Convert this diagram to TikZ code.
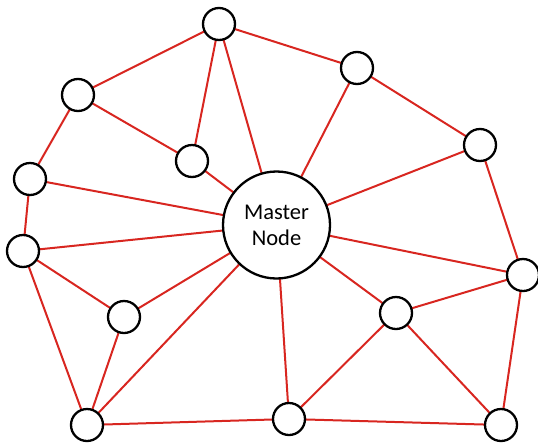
\documentclass[tikz,border=0pt]{standalone}
\usepackage{fontspec}
\setmainfont{Carlito}
\definecolor{edgered}{RGB}{216,38,32}
\begin{document}
\begin{tikzpicture}[x=1pt,y=-1pt,
  small/.style={circle,draw=black,line width=2.3pt,fill=white,minimum size=32pt,inner sep=0pt},
  master/.style={circle,draw=black,line width=2.3pt,fill=white,minimum size=107pt,inner sep=0pt,align=center,font=\fontsize{22.5}{26}\selectfont},
  link/.style={draw=edgered,line width=2pt}]
\useasboundingbox (0,0) rectangle (538,445);
\coordinate (pA) at (219,24);
\coordinate (pB) at (357,68);
\coordinate (pC) at (78,95);
\coordinate (pD) at (192,161);
\coordinate (pE) at (480,145);
\coordinate (pF) at (30,179);
\coordinate (pG) at (23,251);
\coordinate (pH) at (523,275);
\coordinate (pI) at (124,317);
\coordinate (pJ) at (396,313);
\coordinate (pK) at (87,425);
\coordinate (pL) at (289,419);
\coordinate (pN) at (501,425);
\coordinate (pM) at (276.5,225);
% edges
\draw[link] (pA) -- (pC) (pA) -- (pD) (pA) -- (pB) (pA) -- (pM)
  (pB) -- (pM) (pB) -- (pE)
  (pC) -- (pD) (pC) -- (pF)
  (pD) -- (pM)
  (pE) -- (pM) (pE) -- (pH)
  (pF) -- (pM) (pF) -- (pG)
  (pG) -- (pM) (pG) -- (pI) (pG) -- (pK)
  (pH) -- (pM) (pH) -- (pJ) (pH) -- (pN)
  (pI) -- (pM) (pI) -- (pK)
  (pJ) -- (pM) (pJ) -- (pL) (pJ) -- (pN)
  (pK) -- (pM) (pK) -- (pL)
  (pL) -- (pM) (pL) -- (pN);
% nodes
\node[master] (M) at (pM) {Master\\Node};
\foreach \n in {A,B,C,D,E,F,G,H,I,J,K,L,N}
  \node[small] (\n) at (p\n) {};
\end{tikzpicture}
\end{document}
